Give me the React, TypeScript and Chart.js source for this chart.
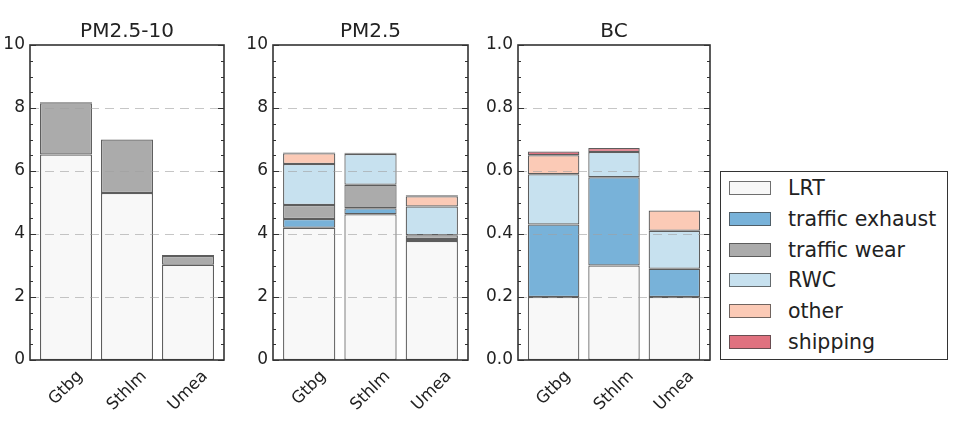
import React, { useEffect, useRef } from 'react';
import { Chart, registerables } from 'chart.js';

Chart.register(...registerables);

const FONT = "'DejaVu Sans', 'Liberation Sans', sans-serif";

const categories = ['Gtbg', 'Sthlm', 'Umea'];
const sources = ['LRT', 'traffic exhaust', 'traffic wear', 'RWC', 'other', 'shipping'];
const sourceColors = ['#f8f8f8', '#78b2d9', '#ababab', '#c7e1ef', '#fbcab6', '#e0717f'];

const panelTitles = ['PM2.5-10', 'PM2.5', 'BC'];

// PM2.5-10
const coarseLRT = [6.52, 5.3, 3.02];
const coarseExhaust = [0, 0, 0];
const coarseWear = [1.63, 1.7, 0.28];
const coarseRWC = [0, 0, 0];
const coarseOther = [0.03, 0, 0.03];
const coarseShipping = [0, 0, 0];

// PM2.5
const fineLRT = [4.2, 4.63, 3.78];
const fineExhaust = [0.28, 0.19, 0.06];
const fineWear = [0.44, 0.74, 0.12];
const fineRWC = [1.3, 0.98, 0.91];
const fineOther = [0.34, 0.02, 0.33];
const fineShipping = [0.03, 0.02, 0.03];

// BC
const bcLRT = [0.2, 0.3, 0.2];
const bcExhaust = [0.23, 0.28, 0.09];
const bcWear = [0, 0, 0];
const bcRWC = [0.16, 0.08, 0.12];
const bcOther = [0.06, 0, 0.065];
const bcShipping = [0.012, 0.013, 0];

const pmTickLabels = ['0', '2', '4', '6', '8', '10'];
const bcTickLabels = ['0.0', '0.2', '0.4', '0.6', '0.8', '1.0'];

const panelSeries = [
  [coarseLRT, coarseExhaust, coarseWear, coarseRWC, coarseOther, coarseShipping],
  [fineLRT, fineExhaust, fineWear, fineRWC, fineOther, fineShipping],
  [bcLRT, bcExhaust, bcWear, bcRWC, bcOther, bcShipping],
];

const panelLayout = [
  { left: 0, width: 240, yWidth: 30, padRight: 16, max: 10, step: 2, minor: 0.5, labels: pmTickLabels },
  { left: 240, width: 240, yWidth: 33, padRight: 12, max: 10, step: 2, minor: 0.5, labels: pmTickLabels },
  { left: 480, width: 240, yWidth: 38, padRight: 10, max: 1, step: 0.2, minor: 0.05, labels: bcTickLabels },
];

function makeDecor(title: string, max: number, step: number, minor: number) {
  return {
    id: 'decor_' + title,
    afterDatasetsDraw(chart: any) {
      const { ctx, chartArea } = chart;
      const xs = chart.scales.x;
      const ys = chart.scales.y;
      const { left, right, top, bottom } = chartArea;
      ctx.save();
      // dashed grid
      ctx.strokeStyle = 'rgba(160,160,160,0.6)';
      ctx.lineWidth = 1.2;
      ctx.setLineDash([9, 6]);
      const nMajor = Math.round(max / step);
      for (let k = 1; k < nMajor; k++) {
        const y = Math.round(ys.getPixelForValue(k * step)) + 0.5;
        ctx.beginPath();
        ctx.moveTo(left, y);
        ctx.lineTo(right, y);
        ctx.stroke();
      }
      ctx.setLineDash([]);
      // ticks (inside, both sides)
      ctx.strokeStyle = '#333';
      ctx.lineWidth = 1;
      const nMinor = Math.round(max / minor);
      const ratio = Math.round(step / minor);
      for (let k = 0; k <= nMinor; k++) {
        const y = Math.round(ys.getPixelForValue(k * minor)) + 0.5;
        const len = k % ratio === 0 ? 6 : 3;
        ctx.beginPath();
        ctx.moveTo(left, y);
        ctx.lineTo(left + len, y);
        ctx.moveTo(right, y);
        ctx.lineTo(right - len, y);
        ctx.stroke();
      }
      // frame
      ctx.strokeStyle = '#333';
      ctx.lineWidth = 1.6;
      ctx.strokeRect(left, top, right - left, bottom - top);
      // title
      ctx.fillStyle = '#222';
      ctx.font = `20px ${FONT}`;
      ctx.textAlign = 'center';
      ctx.textBaseline = 'alphabetic';
      ctx.fillText(title, (left + right) / 2, 37);
      // rotated category labels, centred under each bar
      ctx.font = `16.5px ${FONT}`;
      categories.forEach((c, i) => {
        const x = xs.getPixelForValue(i);
        const w = ctx.measureText(c).width;
        const h = 16.5;
        const half = (w + h) * Math.SQRT1_2 / 2;
        ctx.save();
        ctx.translate(x, bottom + 8 + half);
        ctx.rotate(-Math.PI / 4);
        ctx.textAlign = 'center';
        ctx.textBaseline = 'middle';
        ctx.fillText(c, 0, 0);
        ctx.restore();
      });
      ctx.restore();
    },
  };
}

function Panel({ index }: { index: number }) {
  const ref = useRef<HTMLCanvasElement | null>(null);
  useEffect(() => {
    if (!ref.current) return;
    const L = panelLayout[index];
    const series = panelSeries[index];
    const chart = new Chart(ref.current, {
      type: 'bar',
      data: {
        datasets: sources.map((s, k) => ({
          label: s,
          data: series[k].map((v, i) => ({ x: i, y: v })).filter((p) => p.y > 0),
          backgroundColor: sourceColors[k],
          borderColor: 'rgba(65,65,65,0.85)',
          borderWidth: 1.25,
          borderSkipped: false,
          barPercentage: 0.852,
          categoryPercentage: 1,
        })),
      },
      options: {
        responsive: false,
        animation: false,
        layout: { padding: { left: 0, right: L.padRight, top: 45, bottom: 71 } },
        plugins: { legend: { display: false }, tooltip: { enabled: false }, title: { display: false } },
        scales: {
          x: {
            type: 'linear',
            min: -0.59,
            max: 2.59,
            offset: false,
            stacked: true,
            display: false,
            afterBuildTicks: (scale: any) => {
              scale.ticks = categories.map((_, i) => ({ value: i }));
            },
          },
          y: {
            type: 'linear',
            min: 0,
            max: L.max,
            stacked: true,
            ticks: {
              stepSize: L.step,
              callback: (v: any) => L.labels[Math.round(Number(v) / L.step)],
              font: { family: FONT, size: 17 },
              color: '#222',
              padding: 5,
            },
            grid: { display: false, drawTicks: false },
            border: { display: false },
            afterFit: (scale: any) => {
              scale.width = L.yWidth;
            },
          },
        },
      } as any,
      plugins: [makeDecor(panelTitles[index], L.max, L.step, L.minor)],
    });
    return () => chart.destroy();
  }, [index]);
  const L = panelLayout[index];
  return (
    <canvas
      ref={ref}
      width={L.width}
      height={431}
      style={{ position: 'absolute', left: L.left, top: 0, width: L.width, height: 431 }}
    />
  );
}

function Legend() {
  return (
    <div
      style={{
        position: 'absolute',
        left: 720,
        top: 171,
        width: 226,
        height: 187,
        border: '1.5px solid #333',
        background: '#fff',
        fontFamily: FONT,
        fontSize: 20.5,
        color: '#222',
      }}
    >
      {sources.map((s, k) => (
        <div
          key={s}
          style={{ position: 'absolute', left: 0, top: 1 + k * 30.8, height: 30, width: '100%' }}
        >
          <div
            style={{
              position: 'absolute',
              left: 8,
              top: 8,
              width: 40,
              height: 12,
              background: sourceColors[k],
              border: '1px solid rgba(65,65,65,0.75)',
            }}
          />
          <span style={{ position: 'absolute', left: 67, top: 0, whiteSpace: 'nowrap', lineHeight: '30px' }}>{s}</span>
        </div>
      ))}
    </div>
  );
}

export default function App() {
  return (
    <div style={{ position: 'absolute', left: 0, top: 0, width: 972, height: 431, background: '#fff', overflow: 'hidden' }}>
      {[0, 1, 2].map((i) => (
        <Panel key={i} index={i} />
      ))}
      <Legend />
    </div>
  );
}
